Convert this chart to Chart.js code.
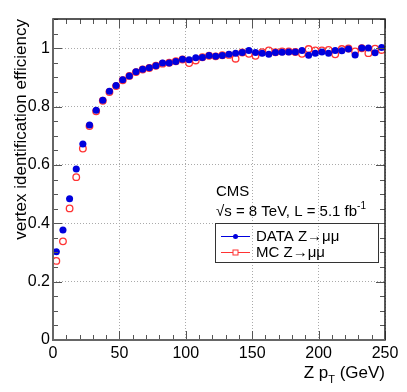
<!DOCTYPE html>
<html>
<head>
<meta charset="utf-8">
<script src="https://cdn.jsdelivr.net/npm/chart.js@4"></script>
<style>
  html, body { margin: 0; padding: 0; background: #fff; }
  canvas { display: block; }
</style>
</head>
<body>
<canvas id="chart" width="407" height="392"></canvas>
<script>
// Z pT bin centres (GeV)
const binCenters = [
  2.5, 7.5, 12.5, 17.5, 22.5, 27.5, 32.5, 37.5, 42.5, 47.5,
  52.5, 57.5, 62.5, 67.5, 72.5, 77.5, 82.5, 87.5, 92.5, 97.5,
  102.5, 107.5, 112.5, 117.5, 122.5, 127.5, 132.5, 137.5, 142.5, 147.5,
  152.5, 157.5, 162.5, 167.5, 172.5, 177.5, 182.5, 187.5, 192.5, 197.5,
  202.5, 207.5, 212.5, 217.5, 222.5, 227.5, 232.5, 237.5, 242.5, 247.5
];
const dataEff = [
  0.302, 0.377, 0.484, 0.586, 0.672, 0.737, 0.787, 0.822, 0.852, 0.872,
  0.892, 0.905, 0.919, 0.928, 0.933, 0.940, 0.949, 0.949, 0.954, 0.962,
  0.960, 0.967, 0.968, 0.975, 0.972, 0.975, 0.979, 0.983, 0.985, 0.992,
  0.985, 0.983, 0.979, 0.985, 0.986, 0.987, 0.987, 0.992, 0.976, 0.983,
  0.987, 0.983, 0.992, 0.991, 0.997, 0.977, 1.001, 1.001, 0.984, 1.002
];
const dataErr = [
  0.003, 0.003, 0.003, 0.003, 0.003, 0.002, 0.002, 0.002, 0.002, 0.002,
  0.002, 0.002, 0.002, 0.002, 0.002, 0.002, 0.002, 0.002, 0.002, 0.002,
  0.003, 0.003, 0.003, 0.003, 0.003, 0.003, 0.003, 0.003, 0.003, 0.003,
  0.004, 0.004, 0.004, 0.004, 0.004, 0.004, 0.005, 0.005, 0.005, 0.005,
  0.005, 0.005, 0.006, 0.006, 0.006, 0.007, 0.006, 0.006, 0.008, 0.006
];
const mcEff = [
  0.271, 0.338, 0.451, 0.558, 0.656, 0.733, 0.784, 0.820, 0.850, 0.870,
  0.890, 0.905, 0.918, 0.927, 0.932, 0.940, 0.947, 0.950, 0.955, 0.961,
  0.949, 0.958, 0.969, 0.974, 0.972, 0.976, 0.977, 0.964, 0.985, 0.981,
  0.974, 0.986, 0.992, 0.986, 0.989, 0.989, 0.987, 0.981, 0.997, 0.992,
  0.992, 0.994, 0.979, 0.997, 0.999, 0.989, 1.000, 0.983, 0.998, 0.994
];
const xTicks = [0, 50, 100, 150, 200, 250];
const yTicks = [0, 0.2, 0.4, 0.6, 0.8, 1];
const halfBin = 2.5;

const BLUE = '#0000dd';
const RED = '#ff3333';
const FONT = '"Liberation Sans", Arial, sans-serif';

function pts(ys) {
  return binCenters.map((x, i) => ({ x: x, y: ys[i] }));
}

// ROOT-like decorations: inner ticks, frame, error bars, texts, legend
const rootStyle = {
  id: 'rootStyle',
  beforeDatasetsDraw(chart) {
    const ctx = chart.ctx;
    const xs = chart.scales.x, ys = chart.scales.y;
    ctx.save();
    ctx.strokeStyle = BLUE;
    ctx.lineWidth = 1;
    binCenters.forEach((c, i) => {
      const px = xs.getPixelForValue(c);
      const py = ys.getPixelForValue(dataEff[i]);
      ctx.beginPath();
      ctx.moveTo(xs.getPixelForValue(c - halfBin), py);
      ctx.lineTo(xs.getPixelForValue(c + halfBin), py);
      ctx.moveTo(px, ys.getPixelForValue(dataEff[i] - dataErr[i]));
      ctx.lineTo(px, ys.getPixelForValue(dataEff[i] + dataErr[i]));
      ctx.stroke();
    });
    ctx.restore();
  },
  afterDraw(chart) {
    const ctx = chart.ctx;
    const a = chart.chartArea;
    const xs = chart.scales.x, ys = chart.scales.y;
    ctx.save();

    // ticks on all four sides
    ctx.strokeStyle = '#555';
    ctx.lineWidth = 1;
    ctx.beginPath();
    for (let v = 0; v <= 250; v += 10) {
      const px = Math.round(xs.getPixelForValue(v)) + 0.5;
      const len = v % 50 === 0 ? 9 : 5;
      ctx.moveTo(px, a.bottom); ctx.lineTo(px, a.bottom - len);
      ctx.moveTo(px, a.top); ctx.lineTo(px, a.top + len);
    }
    for (let k = 0; k <= 22; k++) {
      const v = k * 0.05;
      const py = Math.round(ys.getPixelForValue(v)) + 0.5;
      const len = k % 4 === 0 ? 9 : 5;
      ctx.moveTo(a.left, py); ctx.lineTo(a.left + len, py);
      ctx.moveTo(a.right, py); ctx.lineTo(a.right - len, py);
    }
    ctx.stroke();

    // frame
    ctx.strokeStyle = '#222';
    ctx.lineWidth = 1.5;
    ctx.strokeRect(a.left, a.top, a.right - a.left, a.bottom - a.top);
    ctx.strokeStyle = '#666';
    ctx.lineWidth = 2;
    ctx.beginPath();
    ctx.moveTo(a.left, a.top); ctx.lineTo(a.left, a.bottom); ctx.lineTo(a.right, a.bottom);
    ctx.stroke();

    // axis titles
    ctx.fillStyle = '#000';
    ctx.textBaseline = 'alphabetic';
    ctx.textAlign = 'left';
    const xtMain = 'Z p';
    const xtEnd = ' (GeV)';
    ctx.font = '17px ' + FONT;
    const w1 = ctx.measureText(xtMain).width;
    const w3 = ctx.measureText(xtEnd).width;
    ctx.font = '11px ' + FONT;
    const w2 = ctx.measureText('T').width;
    let tx = a.right - (w1 + w2 + w3);
    const tb = 378;
    ctx.font = '17px ' + FONT;
    ctx.fillText(xtMain, tx, tb);
    ctx.font = '11px ' + FONT;
    ctx.fillText('T', tx + w1, tb + 5);
    ctx.font = '17px ' + FONT;
    ctx.fillText(xtEnd, tx + w1 + w2, tb);

    ctx.save();
    ctx.translate(26, a.top);
    ctx.rotate(-Math.PI / 2);
    ctx.textAlign = 'right';
    ctx.fillText('vertex identification efficiency', 0, 0);
    ctx.restore();

    // CMS label
    ctx.textAlign = 'left';
    ctx.font = '15px ' + FONT;
    ctx.fillText('CMS', 216, 196);
    const s1 = '\u221As = 8 TeV, L = 5.1 fb';
    ctx.fillText(s1, 216, 216);
    const sw = ctx.measureText(s1).width;
    ctx.font = '10px ' + FONT;
    ctx.fillText('-1', 216 + sw, 209);

    // legend box
    ctx.strokeStyle = '#333';
    ctx.lineWidth = 1;
    ctx.strokeRect(215.5, 223.5, 163, 39);
    ctx.font = '15px ' + FONT;
    const entries = [
      { label: 'DATA Z\u2192\u03BC\u03BC', color: BLUE, y: 236, filled: true },
      { label: 'MC Z\u2192\u03BC\u03BC', color: RED, y: 252, filled: false }
    ];
    entries.forEach(e => {
      ctx.strokeStyle = e.color;
      ctx.lineWidth = 1;
      ctx.beginPath();
      ctx.moveTo(221, e.y + 0.5); ctx.lineTo(250, e.y + 0.5);
      ctx.stroke();
      if (e.filled) {
        ctx.fillStyle = e.color;
        ctx.beginPath();
        ctx.arc(235.5, e.y + 0.5, 2.5, 0, Math.PI * 2);
        ctx.fill();
      } else {
        ctx.fillStyle = '#fff';
        ctx.fillRect(233, e.y - 2, 5, 5);
        ctx.strokeRect(233, e.y - 2, 5, 5);
      }
      ctx.fillStyle = '#000';
      ctx.fillText(e.label, 256, e.y + 5);
    });

    ctx.restore();
  }
};

new Chart(document.getElementById('chart'), {
  type: 'scatter',
  data: {
    datasets: [
      {
        label: 'DATA Z\u2192\u03BC\u03BC',
        data: pts(dataEff),
        backgroundColor: BLUE,
        borderColor: BLUE,
        pointRadius: 3.5,
        pointBorderWidth: 0
      },
      {
        label: 'MC Z\u2192\u03BC\u03BC',
        data: pts(mcEff),
        backgroundColor: 'rgba(255,255,255,0)',
        borderColor: RED,
        pointRadius: 3.3,
        pointBorderWidth: 1.3
      }
    ]
  },
  options: {
    responsive: false,
    animation: false,
    layout: { padding: { top: 19, right: 22, left: 0, bottom: 0 } },
    plugins: {
      legend: { display: false },
      tooltip: { enabled: false }
    },
    scales: {
      x: {
        type: 'linear',
        min: 0,
        max: 250,
        afterBuildTicks: s => { s.ticks = xTicks.map(v => ({ value: v })); },
        afterFit: s => { s.height = 52; },
        grid: { color: '#aaa', drawTicks: false, lineWidth: 1 },
        border: { display: false, dash: [1, 2] },
        ticks: {
          color: '#000',
          padding: 4,
          maxRotation: 0,
          font: { family: FONT, size: 16 },
          callback: v => String(v)
        }
      },
      y: {
        type: 'linear',
        min: 0,
        max: 1.1,
        afterBuildTicks: s => { s.ticks = yTicks.map(v => ({ value: v })); },
        afterFit: s => { s.width = 53; },
        grid: { color: '#aaa', drawTicks: false, lineWidth: 1 },
        border: { display: false, dash: [1, 2] },
        ticks: {
          color: '#000',
          padding: 3,
          font: { family: FONT, size: 16 },
          callback: v => String(v)
        }
      }
    }
  },
  plugins: [rootStyle]
});
</script>
</body>
</html>
